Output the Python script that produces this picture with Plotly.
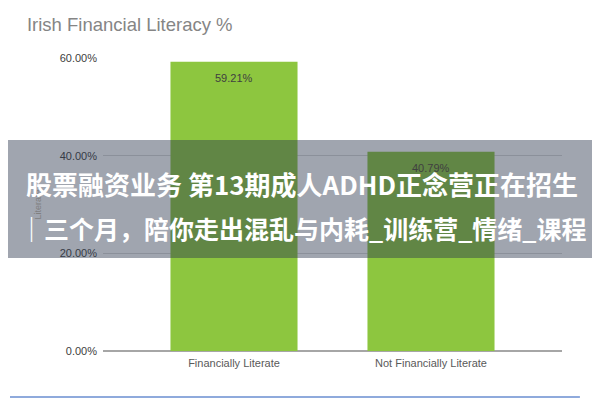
import plotly.graph_objects as go

# Chart data
categories = ["Financially Literate", "Not Financially Literate"]
values = [59.21, 40.79]
value_labels = ["59.21%", "40.79%"]
tick_values = [0, 20, 40, 60]
tick_labels = ["0.00%", "20.00%", "40.00%", "60.00%"]

banner_line1 = "股票融资业务 第13期成人ADHD正念营正在招生"
banner_line2 = "｜三个月，陪你走出混乱与内耗_训练营_情绪_课程"

fig = go.Figure(
    go.Bar(
        x=categories,
        y=values,
        marker=dict(color="#8dc63f", line=dict(width=0)),
        width=0.645,
        hoverinfo="x+y",
    )
)

# value labels just below the top of each bar
for cat, val, lab in zip(categories, values, value_labels):
    fig.add_annotation(
        x=cat, y=val, text=lab, showarrow=False,
        yanchor="top", yshift=-8,
        font=dict(size=11, color="#404040", family="Liberation Sans"),
    )

# the page has an 8px body margin, so the figure is sized to fit inside it
fig.update_layout(
    width=592,
    height=392,
    paper_bgcolor="white",
    plot_bgcolor="white",
    showlegend=False,
    margin=dict(l=95, r=38, t=50, b=49),
    font=dict(family="Liberation Sans", color="#595959"),
    title=dict(
        text="Irish Financial Literacy %",
        x=0.032, xanchor="left",
        y=0.957, yanchor="middle",
        font=dict(size=18.5, color="#858585", family="Liberation Sans"),
    ),
    xaxis=dict(
        range=[-0.665, 1.665],
        showgrid=False,
        showline=False,
        ticks="",
        ticklabelstandoff=4,
        tickfont=dict(size=11, color="#595959"),
    ),
    yaxis=dict(
        range=[0, 60],
        tickvals=tick_values,
        ticktext=tick_labels,
        tickfont=dict(size=11, color="#404040"),
        ticklabelstandoff=5,
        showgrid=True,
        gridcolor="#d9d9d9",
        gridwidth=1,
        zeroline=True,
        zerolinecolor="#a6a6a6",
        zerolinewidth=1.5,
        ticks="",
        title=dict(text="Literate", font=dict(size=9, color="#7f7f7f"), standoff=16),
    ),
)

# translucent banner across the middle
fig.add_shape(
    type="rect", xref="paper", yref="paper",
    x0=-0.23, x1=1.09, y0=0.317, y1=0.720,
    fillcolor="rgba(45,55,78,0.45)", line=dict(width=0), layer="above",
)

# light blue border line at the bottom
fig.add_shape(
    type="line", xref="paper", yref="paper",
    x0=-0.2026, x1=1.039, y0=-0.157, y1=-0.157,
    line=dict(color="#8faadc", width=2),
)

fig.add_annotation(
    text=banner_line1, xref="paper", yref="paper",
    x=0.4335, y=0.573, showarrow=False,
    font=dict(size=26, color="white", family="Noto Sans CJK SC", weight=700),
)
fig.add_annotation(
    text=banner_line2, xref="paper", yref="paper",
    x=0.436, y=0.42, showarrow=False,
    font=dict(size=25, color="white", family="Noto Sans CJK SC", weight=700),
)

fig.write_html("out.html")
